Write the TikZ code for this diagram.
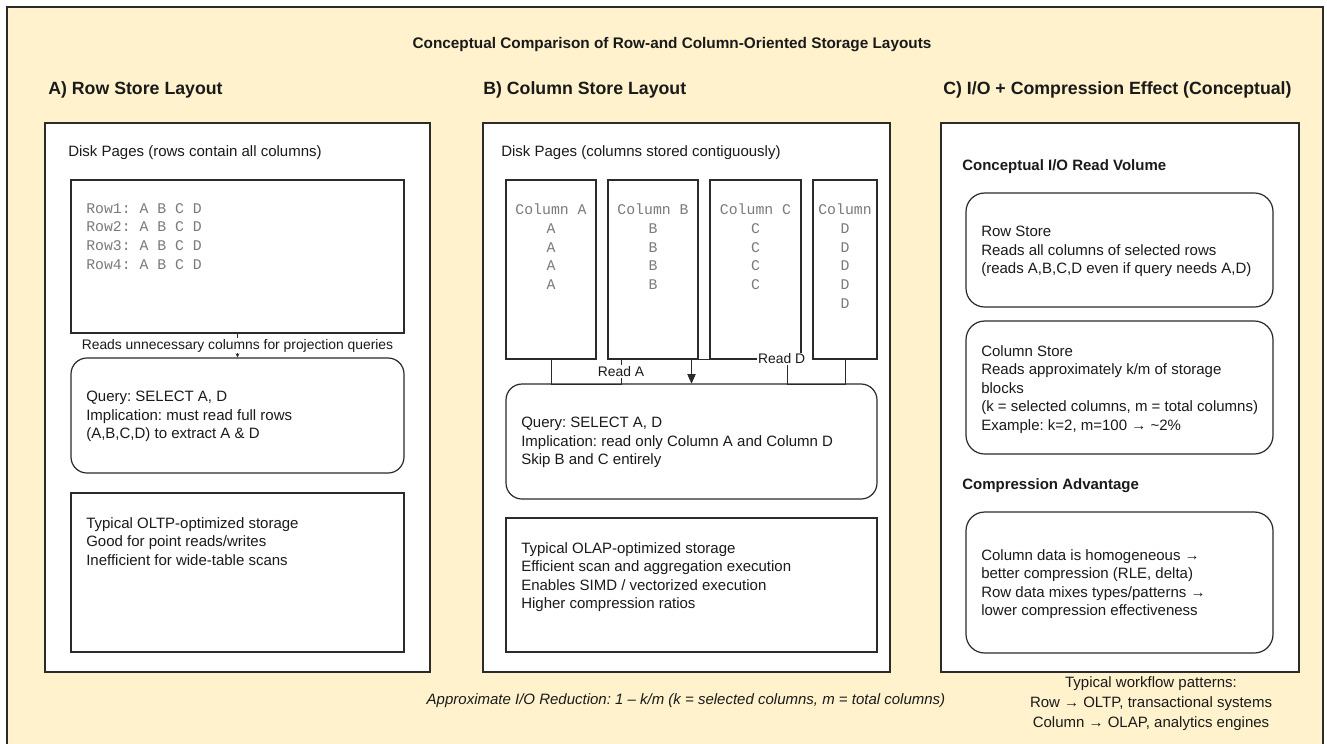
\documentclass[tikz,border=0pt]{standalone}
\usepackage{fontspec}
\setmainfont{Liberation Sans}
\newfontfamily\monofont{Liberation Mono}
\usetikzlibrary{fit,arrows.meta,calc}
\definecolor{bgyellow}{HTML}{FFF2CC}
\definecolor{strokec}{HTML}{2B2B2B}
\definecolor{textc}{HTML}{1A1A1A}
\definecolor{monoc}{HTML}{7A7A7A}
\frenchspacing
\begin{document}
\frenchspacing
\begin{tikzpicture}[x=0.75pt,y=-0.75pt,
  outer/.style={draw=strokec, fill=bgyellow, line width=1.1pt, inner sep=0pt},
  panel/.style={draw=strokec, fill=white, line width=0.9pt, inner sep=0pt},
  sqbox/.style={draw=strokec, fill=white, line width=0.9pt, inner sep=0pt},
  rbox/.style={draw=strokec, fill=white, line width=0.9pt, inner sep=0pt, rounded corners=12pt},
  body/.style={font=\frenchspacing\fontsize{11.25}{13.9}\selectfont, text=textc, align=left, inner sep=0pt, anchor=north west},
  mono/.style={font=\frenchspacing\monofont\fontsize{11.1}{14}\selectfont, text=monoc, inner sep=0pt},
  sect/.style={font=\bfseries\fontsize{11.25}{13.9}\selectfont, text=textc, inner sep=0pt, anchor=west},
  head/.style={font=\bfseries\fontsize{13.3}{16}\selectfont, text=textc, inner sep=0pt, anchor=west},
  lbl/.style={font=\fontsize{10.4}{12.5}\selectfont, text=textc, fill=white, inner sep=1pt},
  conn/.style={draw=strokec, line width=0.75pt},
]
\useasboundingbox (0,0) rectangle (1327,743);
\node[outer, fit={(7,7) (1323,760)}] (bg) {};

% title and headers
\node[font=\bfseries\fontsize{11.5}{14}\selectfont, text=textc, inner sep=0pt] (title) at (672,45) {Conceptual Comparison of Row-and Column-Oriented Storage Layouts};
\node[head] (headA) at (48,90) {A) Row Store Layout};
\node[head] (headB) at (483,90) {B) Column Store Layout};
\node[head] (headC) at (943,90) {C) I/O + Compression Effect (Conceptual)};

% panels
\node[panel, fit={(45,123) (430,672)}] (panA) {};
\node[panel, fit={(483,123) (890,672)}] (panB) {};
\node[panel, fit={(941,123) (1299,672)}] (panC) {};

% ---------- Panel A ----------
\node[body, anchor=west] (diskA) at (68,153) {Disk Pages (rows contain all columns)};
\node[sqbox, fit={(71,180) (404,333)}] (rowbox) {};
\node[mono, anchor=north west, align=left] (rowtxt) at (86,203) {Row1: A B C D\\Row2: A B C D\\Row3: A B C D\\Row4: A B C D};
\node[rbox, fit={(71,358) (404,473)}] (qa) {};
\node[body] (qatxt) at (86,391) {Query: SELECT A, D\\Implication: must read full rows\\(A,B,C,D) to extract A \& D};
\node[sqbox, fit={(71,493) (404,652)}] (oltp) {};
\node[body] (oltptxt) at (86,517) {Typical OLTP-optimized storage\\Good for point reads/writes\\Inefficient for wide-table scans};
\draw[conn, -{Stealth[length=3pt,width=3pt]}] (rowbox.south) -- node[lbl] (lblreads) {Reads unnecessary columns for projection queries} (qa.north);

% ---------- Panel B ----------
\node[body, anchor=west] (diskB) at (501,153) {Disk Pages (columns stored contiguously)};
\node[sqbox, fit={(506,180) (596,359)}] (colA) {};
\node[sqbox, fit={(608,180) (698,359)}] (colB) {};
\node[sqbox, fit={(710,180) (801,359)}] (colC) {};
\node[sqbox, fit={(813,180) (877,359)}] (colD) {};
\node[mono, anchor=north, align=center] (colAt) at (551,204) {Column A\\A\\A\\A\\A};
\node[mono, anchor=north, align=center] (colBt) at (653,204) {Column B\\B\\B\\B\\B};
\node[mono, anchor=north, align=center] (colCt) at (755.5,204) {Column C\\C\\C\\C\\C};
\node[mono, anchor=north, align=center] (colDt) at (845,204) {Column\\D\\D\\D\\D\\D};
\node[rbox, fit={(506,384) (877,499)}] (qb) {};
\node[body] (qbtxt) at (521,417) {Query: SELECT A, D\\Implication: read only Column A and Column D\\Skip B and C entirely};
\node[sqbox, fit={(506,518) (877,652)}] (olap) {};
\node[body] (olaptxt) at (521,542) {Typical OLAP-optimized storage\\Efficient scan and aggregation execution\\Enables SIMD / vectorized execution\\Higher compression ratios};
\coordinate (ra1) at (621,384);
\coordinate (ra2) at (621,359);
\coordinate (rd1) at (787,384);
\coordinate (rd2) at (787,359);
\draw[conn, -{Triangle[length=7pt,width=6pt]}] (colA.south) |- (ra1) -- node[lbl] (lblreadA) {Read A} (ra2) -| (qb.north);
\draw[conn, -{Triangle[length=7pt,width=6pt]}] (colD.south) |- (rd1) -- (rd2) node[lbl, xshift=-4pt] (lblreadD) {Read D} -| (qb.north);

% ---------- Panel C ----------
\node[sect] (ioT) at (962,167) {Conceptual I/O Read Volume};
\node[rbox, rounded corners=14pt, fit={(966,193) (1273,307)}] (rsbox) {};
\node[body] (rstxt) at (981,226) {Row Store\\Reads all columns of selected rows\\(reads A,B,C,D even if query needs A,D)};
\node[rbox, rounded corners=14pt, fit={(966,321) (1273,454)}] (csbox) {};
\node[body] (cstxt) at (981,345) {Column Store\\Reads approximately k/m of storage\\blocks\\(k = selected columns, m = total columns)\\Example: k=2, m=100 → \textasciitilde 2\%};
\node[sect] (compT) at (962,486) {Compression Advantage};
\node[rbox, rounded corners=14pt, fit={(966,512) (1273,653)}] (cpbox) {};
\node[body] (cptxt) at (981,549) {Column data is homogeneous →\\better compression (RLE, delta)\\Row data mixes types/patterns →\\lower compression effectiveness};

% ---------- footer ----------
\node[font=\itshape\fontsize{11.25}{13.9}\selectfont, text=textc, inner sep=0pt] (ioRed) at (686,701) {Approximate I/O Reduction: 1 – k/m (k = selected columns, m = total columns)};
\node[font=\fontsize{11.25}{15}\selectfont, text=textc, inner sep=0pt, align=center, anchor=north] (wf) at (1151,676) {Typical workflow patterns:\\Row → OLTP, transactional systems\\Column → OLAP, analytics engines};
\end{tikzpicture}
\end{document}
